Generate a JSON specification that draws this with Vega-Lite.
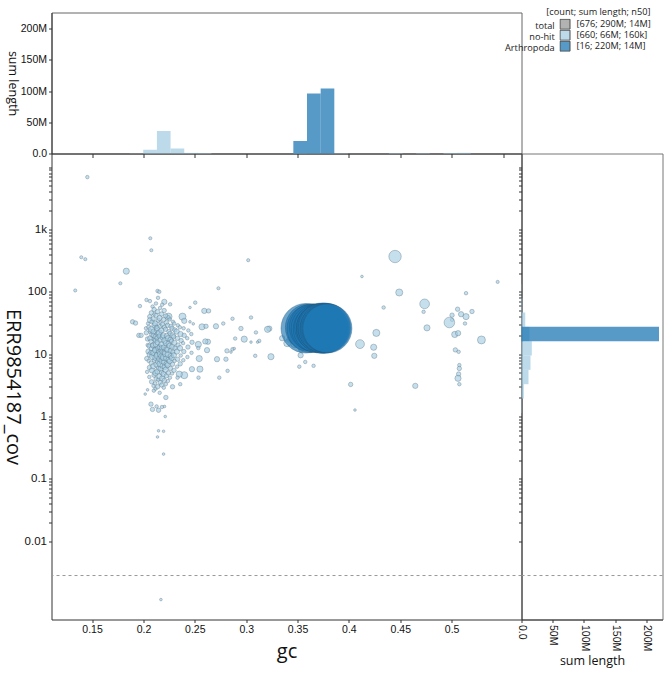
{
  "$schema": "https://vega.github.io/schema/vega-lite/v6.json",
  "background": "white",
  "padding": {"left": 1.5, "top": 7.5, "right": 5, "bottom": 5},
  "config": {
    "view": {"stroke": "#666", "strokeWidth": 1},
    "axis": {
      "grid": false, "domainColor": "#333", "tickColor": "#333", "tickSize": 3,
      "labelFont": "Liberation Sans", "labelColor": "#111", "labelFontSize": 10.5, "labelOverlap": false, "labelPadding": 2,
      "titleFont": "Open Sans", "titleFontWeight": "normal", "titleColor": "#111"
    },
    "legend": {
      "labelFont": "Open Sans", "labelFontSize": 9.2, "labelColor": "#222",
      "titleFont": "Open Sans", "titleFontSize": 9.2, "titleFontWeight": "normal", "titleColor": "#222",
      "padding": 0, "rowPadding": 0, "clipHeight": 11
    }
  },
  "datasets": {
    "contigs": [
      {"gc":0.1454,"cov":6900,"len":58000,"g":"no-hit"},
      {"gc":0.1395,"cov":358,"len":44000,"g":"no-hit"},
      {"gc":0.1434,"cov":333,"len":44000,"g":"no-hit"},
      {"gc":0.1336,"cov":105,"len":44000,"g":"no-hit"},
      {"gc":0.2067,"cov":722,"len":44000,"g":"no-hit"},
      {"gc":0.2077,"cov":464,"len":44000,"g":"no-hit"},
      {"gc":0.1833,"cov":214,"len":217000,"g":"no-hit"},
      {"gc":0.1775,"cov":137,"len":44000,"g":"no-hit"},
      {"gc":0.302,"cov":321,"len":44000,"g":"no-hit"},
      {"gc":0.273,"cov":114,"len":44000,"g":"no-hit"},
      {"gc":0.4449,"cov":368,"len":925000,"g":"no-hit"},
      {"gc":0.4127,"cov":176,"len":25000,"g":"no-hit"},
      {"gc":0.449,"cov":97.5,"len":290000,"g":"no-hit"},
      {"gc":0.5448,"cov":144,"len":44000,"g":"no-hit"},
      {"gc":0.4338,"cov":56,"len":58000,"g":"no-hit"},
      {"gc":0.4737,"cov":64,"len":564000,"g":"no-hit"},
      {"gc":0.4727,"cov":47.7,"len":58000,"g":"no-hit"},
      {"gc":0.476,"cov":26.4,"len":217000,"g":"no-hit"},
      {"gc":0.514,"cov":95,"len":58000,"g":"no-hit"},
      {"gc":0.5058,"cov":52.6,"len":102000,"g":"no-hit"},
      {"gc":0.5004,"cov":42.2,"len":102000,"g":"no-hit"},
      {"gc":0.5092,"cov":43.7,"len":155000,"g":"no-hit"},
      {"gc":0.514,"cov":40,"len":217000,"g":"no-hit"},
      {"gc":0.5198,"cov":48.3,"len":102000,"g":"no-hit"},
      {"gc":0.5004,"cov":35.5,"len":58000,"g":"no-hit"},
      {"gc":0.4978,"cov":32.2,"len":675000,"g":"no-hit"},
      {"gc":0.513,"cov":31,"len":58000,"g":"no-hit"},
      {"gc":0.503,"cov":20.7,"len":217000,"g":"no-hit"},
      {"gc":0.5063,"cov":21.7,"len":155000,"g":"no-hit"},
      {"gc":0.529,"cov":16.9,"len":371000,"g":"no-hit"},
      {"gc":0.5036,"cov":11.7,"len":102000,"g":"no-hit"},
      {"gc":0.5068,"cov":10.9,"len":58000,"g":"no-hit"},
      {"gc":0.5075,"cov":6.67,"len":58000,"g":"no-hit"},
      {"gc":0.5075,"cov":5.9,"len":102000,"g":"no-hit"},
      {"gc":0.5068,"cov":4.8,"len":102000,"g":"no-hit"},
      {"gc":0.5062,"cov":4.1,"len":217000,"g":"no-hit"},
      {"gc":0.5075,"cov":3.3,"len":58000,"g":"no-hit"},
      {"gc":0.4646,"cov":3.1,"len":155000,"g":"no-hit"},
      {"gc":0.4017,"cov":3.27,"len":102000,"g":"no-hit"},
      {"gc":0.4059,"cov":1.27,"len":25000,"g":"no-hit"},
      {"gc":0.4267,"cov":21.9,"len":290000,"g":"no-hit"},
      {"gc":0.4108,"cov":14.5,"len":463000,"g":"no-hit"},
      {"gc":0.4241,"cov":12.9,"len":217000,"g":"no-hit"},
      {"gc":0.4247,"cov":9.4,"len":155000,"g":"no-hit"},
      {"gc":0.3241,"cov":9.1,"len":217000,"g":"no-hit"},
      {"gc":0.3225,"cov":25.7,"len":155000,"g":"no-hit"},
      {"gc":0.3517,"cov":6.3,"len":58000,"g":"no-hit"},
      {"gc":0.3575,"cov":7.5,"len":58000,"g":"no-hit"},
      {"gc":0.3656,"cov":6.5,"len":58000,"g":"no-hit"},
      {"gc":0.3535,"cov":12,"len":155000,"g":"no-hit"},
      {"gc":0.342,"cov":17,"len":155000,"g":"no-hit"},
      {"gc":0.347,"cov":14.5,"len":290000,"g":"no-hit"},
      {"gc":0.335,"cov":18,"len":155000,"g":"no-hit"},
      {"gc":0.34,"cov":15,"len":290000,"g":"no-hit"},
      {"gc":0.353,"cov":9.6,"len":155000,"g":"no-hit"},
      {"gc":0.2137,"cov":103,"len":58000,"g":"no-hit"},
      {"gc":0.2154,"cov":100,"len":58000,"g":"no-hit"},
      {"gc":0.203,"cov":74,"len":58000,"g":"no-hit"},
      {"gc":0.2063,"cov":71,"len":58000,"g":"no-hit"},
      {"gc":0.2203,"cov":69,"len":155000,"g":"no-hit"},
      {"gc":0.226,"cov":63,"len":58000,"g":"no-hit"},
      {"gc":0.1966,"cov":59,"len":58000,"g":"no-hit"},
      {"gc":0.2504,"cov":67,"len":58000,"g":"no-hit"},
      {"gc":0.2453,"cov":56,"len":25000,"g":"no-hit"},
      {"gc":0.2592,"cov":49.4,"len":155000,"g":"no-hit"},
      {"gc":0.2634,"cov":49.4,"len":102000,"g":"no-hit"},
      {"gc":0.238,"cov":40,"len":290000,"g":"no-hit"},
      {"gc":0.1894,"cov":33,"len":102000,"g":"no-hit"},
      {"gc":0.1923,"cov":31.5,"len":102000,"g":"no-hit"},
      {"gc":0.2453,"cov":33,"len":25000,"g":"no-hit"},
      {"gc":0.2485,"cov":30.6,"len":25000,"g":"no-hit"},
      {"gc":0.257,"cov":27.4,"len":217000,"g":"no-hit"},
      {"gc":0.2609,"cov":28,"len":102000,"g":"no-hit"},
      {"gc":0.2706,"cov":28,"len":155000,"g":"no-hit"},
      {"gc":0.2777,"cov":31,"len":58000,"g":"no-hit"},
      {"gc":0.2867,"cov":37,"len":58000,"g":"no-hit"},
      {"gc":0.2949,"cov":25.8,"len":102000,"g":"no-hit"},
      {"gc":0.3047,"cov":38.7,"len":58000,"g":"no-hit"},
      {"gc":0.3095,"cov":22.3,"len":58000,"g":"no-hit"},
      {"gc":0.3208,"cov":25,"len":217000,"g":"no-hit"},
      {"gc":0.3127,"cov":16.3,"len":58000,"g":"no-hit"},
      {"gc":0.3111,"cov":15.6,"len":25000,"g":"no-hit"},
      {"gc":0.3047,"cov":15.6,"len":25000,"g":"no-hit"},
      {"gc":0.3088,"cov":9.4,"len":58000,"g":"no-hit"},
      {"gc":0.2981,"cov":17.4,"len":217000,"g":"no-hit"},
      {"gc":0.2893,"cov":17.8,"len":58000,"g":"no-hit"},
      {"gc":0.2867,"cov":12,"len":58000,"g":"no-hit"},
      {"gc":0.2813,"cov":11.3,"len":102000,"g":"no-hit"},
      {"gc":0.2852,"cov":10.8,"len":25000,"g":"no-hit"},
      {"gc":0.2884,"cov":12.3,"len":25000,"g":"no-hit"},
      {"gc":0.2803,"cov":8.3,"len":102000,"g":"no-hit"},
      {"gc":0.2716,"cov":8.3,"len":155000,"g":"no-hit"},
      {"gc":0.2819,"cov":5.4,"len":58000,"g":"no-hit"},
      {"gc":0.2738,"cov":4.2,"len":58000,"g":"no-hit"},
      {"gc":0.2628,"cov":15.8,"len":155000,"g":"no-hit"},
      {"gc":0.2602,"cov":16,"len":155000,"g":"no-hit"},
      {"gc":0.2534,"cov":14.3,"len":217000,"g":"no-hit"},
      {"gc":0.2534,"cov":12.5,"len":58000,"g":"no-hit"},
      {"gc":0.2619,"cov":11.6,"len":155000,"g":"no-hit"},
      {"gc":0.2543,"cov":8.5,"len":217000,"g":"no-hit"},
      {"gc":0.255,"cov":5.75,"len":217000,"g":"no-hit"},
      {"gc":0.2472,"cov":5.75,"len":155000,"g":"no-hit"},
      {"gc":0.2397,"cov":4.6,"len":290000,"g":"no-hit"},
      {"gc":0.2536,"cov":4.2,"len":58000,"g":"no-hit"},
      {"gc":0.2358,"cov":3.3,"len":58000,"g":"no-hit"},
      {"gc":0.2283,"cov":3.0,"len":102000,"g":"no-hit"},
      {"gc":0.2218,"cov":2.02,"len":102000,"g":"no-hit"},
      {"gc":0.204,"cov":2.68,"len":25000,"g":"no-hit"},
      {"gc":0.2017,"cov":2.29,"len":25000,"g":"no-hit"},
      {"gc":0.2073,"cov":1.58,"len":102000,"g":"no-hit"},
      {"gc":0.2088,"cov":1.3,"len":102000,"g":"no-hit"},
      {"gc":0.2147,"cov":1.26,"len":102000,"g":"no-hit"},
      {"gc":0.2128,"cov":1.45,"len":58000,"g":"no-hit"},
      {"gc":0.218,"cov":1.42,"len":58000,"g":"no-hit"},
      {"gc":0.2205,"cov":1.45,"len":25000,"g":"no-hit"},
      {"gc":0.2212,"cov":1.0,"len":25000,"g":"no-hit"},
      {"gc":0.2147,"cov":0.59,"len":25000,"g":"no-hit"},
      {"gc":0.2196,"cov":0.58,"len":25000,"g":"no-hit"},
      {"gc":0.2137,"cov":0.47,"len":25000,"g":"no-hit"},
      {"gc":0.2196,"cov":0.25,"len":25000,"g":"no-hit"},
      {"gc":0.217,"cov":0.00116,"len":25000,"g":"no-hit"},
      {"gc":0.1955,"cov":20,"len":102000,"g":"no-hit"},
      {"gc":0.1977,"cov":20,"len":102000,"g":"no-hit"},
      {"gc":0.2244,"cov":40,"len":290000,"g":"no-hit"},
      {"gc":0.2397,"cov":34.2,"len":155000,"g":"no-hit"},
      {"gc":0.2105,"cov":43.7,"len":58000,"g":"no-hit"},
      {"gc":0.2349,"cov":4.78,"len":217000,"g":"no-hit"},
      {"gc":0.2332,"cov":4.2,"len":58000,"g":"no-hit"},
      {"gc":0.2032,"cov":8.5,"len":102000,"g":"no-hit"},
      {"gc":0.2041,"cov":14,"len":58000,"g":"no-hit"},
      {"gc":0.2028,"cov":22,"len":102000,"g":"no-hit"},
      {"gc":0.2045,"cov":31,"len":58000,"g":"no-hit"},
      {"gc":0.2036,"cov":5.2,"len":58000,"g":"no-hit"},
      {"gc":0.2049,"cov":11,"len":155000,"g":"no-hit"},
      {"gc":0.2039,"cov":17.5,"len":102000,"g":"no-hit"},
      {"gc":0.2025,"cov":26,"len":58000,"g":"no-hit"},
      {"gc":0.2058,"cov":6.1,"len":102000,"g":"no-hit"},
      {"gc":0.2062,"cov":9.8,"len":155000,"g":"no-hit"},
      {"gc":0.2055,"cov":13.5,"len":102000,"g":"no-hit"},
      {"gc":0.2066,"cov":18,"len":155000,"g":"no-hit"},
      {"gc":0.2053,"cov":27,"len":102000,"g":"no-hit"},
      {"gc":0.2061,"cov":40,"len":102000,"g":"no-hit"},
      {"gc":0.2057,"cov":4.3,"len":58000,"g":"no-hit"},
      {"gc":0.2064,"cov":35,"len":155000,"g":"no-hit"},
      {"gc":0.2069,"cov":23,"len":102000,"g":"no-hit"},
      {"gc":0.2051,"cov":7.8,"len":58000,"g":"no-hit"},
      {"gc":0.2079,"cov":3.6,"len":102000,"g":"no-hit"},
      {"gc":0.2083,"cov":5.5,"len":155000,"g":"no-hit"},
      {"gc":0.2076,"cov":7.2,"len":102000,"g":"no-hit"},
      {"gc":0.2088,"cov":9.1,"len":217000,"g":"no-hit"},
      {"gc":0.2081,"cov":12.2,"len":155000,"g":"no-hit"},
      {"gc":0.2074,"cov":16,"len":102000,"g":"no-hit"},
      {"gc":0.2086,"cov":20.5,"len":155000,"g":"no-hit"},
      {"gc":0.2078,"cov":25,"len":217000,"g":"no-hit"},
      {"gc":0.2084,"cov":33,"len":102000,"g":"no-hit"},
      {"gc":0.2077,"cov":46,"len":102000,"g":"no-hit"},
      {"gc":0.2089,"cov":58,"len":58000,"g":"no-hit"},
      {"gc":0.2073,"cov":10.6,"len":102000,"g":"no-hit"},
      {"gc":0.2087,"cov":14.1,"len":58000,"g":"no-hit"},
      {"gc":0.2098,"cov":3.1,"len":58000,"g":"no-hit"},
      {"gc":0.2103,"cov":4.6,"len":102000,"g":"no-hit"},
      {"gc":0.2096,"cov":6.4,"len":155000,"g":"no-hit"},
      {"gc":0.2107,"cov":8.0,"len":102000,"g":"no-hit"},
      {"gc":0.2101,"cov":10.5,"len":217000,"g":"no-hit"},
      {"gc":0.2094,"cov":13.8,"len":155000,"g":"no-hit"},
      {"gc":0.2105,"cov":17.5,"len":102000,"g":"no-hit"},
      {"gc":0.2099,"cov":23,"len":155000,"g":"no-hit"},
      {"gc":0.2108,"cov":29,"len":155000,"g":"no-hit"},
      {"gc":0.2095,"cov":37,"len":102000,"g":"no-hit"},
      {"gc":0.2104,"cov":52,"len":102000,"g":"no-hit"},
      {"gc":0.2101,"cov":2.6,"len":58000,"g":"no-hit"},
      {"gc":0.2109,"cov":11.9,"len":102000,"g":"no-hit"},
      {"gc":0.2097,"cov":19.8,"len":102000,"g":"no-hit"},
      {"gc":0.2118,"cov":2.8,"len":58000,"g":"no-hit"},
      {"gc":0.2123,"cov":4.0,"len":102000,"g":"no-hit"},
      {"gc":0.2116,"cov":5.0,"len":155000,"g":"no-hit"},
      {"gc":0.2127,"cov":6.8,"len":155000,"g":"no-hit"},
      {"gc":0.2121,"cov":8.8,"len":217000,"g":"no-hit"},
      {"gc":0.2114,"cov":11.5,"len":155000,"g":"no-hit"},
      {"gc":0.2125,"cov":14.5,"len":217000,"g":"no-hit"},
      {"gc":0.2119,"cov":19,"len":155000,"g":"no-hit"},
      {"gc":0.2128,"cov":24,"len":102000,"g":"no-hit"},
      {"gc":0.2115,"cov":31,"len":155000,"g":"no-hit"},
      {"gc":0.2124,"cov":42,"len":102000,"g":"no-hit"},
      {"gc":0.2122,"cov":65,"len":58000,"g":"no-hit"},
      {"gc":0.2113,"cov":3.4,"len":58000,"g":"no-hit"},
      {"gc":0.2129,"cov":9.9,"len":102000,"g":"no-hit"},
      {"gc":0.2117,"cov":16.6,"len":102000,"g":"no-hit"},
      {"gc":0.2126,"cov":27.5,"len":58000,"g":"no-hit"},
      {"gc":0.2138,"cov":3.0,"len":102000,"g":"no-hit"},
      {"gc":0.2143,"cov":3.9,"len":58000,"g":"no-hit"},
      {"gc":0.2136,"cov":5.3,"len":155000,"g":"no-hit"},
      {"gc":0.2147,"cov":6.0,"len":102000,"g":"no-hit"},
      {"gc":0.2141,"cov":7.6,"len":155000,"g":"no-hit"},
      {"gc":0.2134,"cov":9.5,"len":217000,"g":"no-hit"},
      {"gc":0.2145,"cov":12.5,"len":155000,"g":"no-hit"},
      {"gc":0.2139,"cov":15.5,"len":155000,"g":"no-hit"},
      {"gc":0.2148,"cov":21,"len":217000,"g":"no-hit"},
      {"gc":0.2135,"cov":26,"len":155000,"g":"no-hit"},
      {"gc":0.2144,"cov":35,"len":102000,"g":"no-hit"},
      {"gc":0.2137,"cov":48,"len":102000,"g":"no-hit"},
      {"gc":0.2142,"cov":80,"len":58000,"g":"no-hit"},
      {"gc":0.2149,"cov":10.9,"len":102000,"g":"no-hit"},
      {"gc":0.2133,"cov":18.2,"len":102000,"g":"no-hit"},
      {"gc":0.2158,"cov":2.4,"len":58000,"g":"no-hit"},
      {"gc":0.2163,"cov":3.5,"len":102000,"g":"no-hit"},
      {"gc":0.2156,"cov":4.4,"len":155000,"g":"no-hit"},
      {"gc":0.2167,"cov":5.8,"len":155000,"g":"no-hit"},
      {"gc":0.2161,"cov":7.0,"len":217000,"g":"no-hit"},
      {"gc":0.2154,"cov":8.4,"len":155000,"g":"no-hit"},
      {"gc":0.2165,"cov":10.0,"len":217000,"g":"no-hit"},
      {"gc":0.2159,"cov":13.0,"len":155000,"g":"no-hit"},
      {"gc":0.2168,"cov":17,"len":155000,"g":"no-hit"},
      {"gc":0.2155,"cov":22,"len":217000,"g":"no-hit"},
      {"gc":0.2164,"cov":28,"len":102000,"g":"no-hit"},
      {"gc":0.2157,"cov":38,"len":155000,"g":"no-hit"},
      {"gc":0.2162,"cov":55,"len":58000,"g":"no-hit"},
      {"gc":0.2169,"cov":11.6,"len":102000,"g":"no-hit"},
      {"gc":0.2153,"cov":19.5,"len":102000,"g":"no-hit"},
      {"gc":0.2166,"cov":32,"len":58000,"g":"no-hit"},
      {"gc":0.2178,"cov":3.2,"len":102000,"g":"no-hit"},
      {"gc":0.2183,"cov":4.1,"len":155000,"g":"no-hit"},
      {"gc":0.2176,"cov":5.1,"len":102000,"g":"no-hit"},
      {"gc":0.2187,"cov":6.5,"len":155000,"g":"no-hit"},
      {"gc":0.2181,"cov":7.9,"len":217000,"g":"no-hit"},
      {"gc":0.2174,"cov":9.2,"len":155000,"g":"no-hit"},
      {"gc":0.2185,"cov":11.0,"len":155000,"g":"no-hit"},
      {"gc":0.2179,"cov":14.2,"len":217000,"g":"no-hit"},
      {"gc":0.2188,"cov":18.5,"len":155000,"g":"no-hit"},
      {"gc":0.2175,"cov":24,"len":155000,"g":"no-hit"},
      {"gc":0.2184,"cov":30,"len":102000,"g":"no-hit"},
      {"gc":0.2177,"cov":44,"len":102000,"g":"no-hit"},
      {"gc":0.2182,"cov":62,"len":58000,"g":"no-hit"},
      {"gc":0.2189,"cov":8.6,"len":102000,"g":"no-hit"},
      {"gc":0.2173,"cov":12.6,"len":102000,"g":"no-hit"},
      {"gc":0.2198,"cov":2.9,"len":58000,"g":"no-hit"},
      {"gc":0.2203,"cov":3.8,"len":102000,"g":"no-hit"},
      {"gc":0.2196,"cov":4.8,"len":155000,"g":"no-hit"},
      {"gc":0.2207,"cov":6.2,"len":155000,"g":"no-hit"},
      {"gc":0.2201,"cov":7.4,"len":155000,"g":"no-hit"},
      {"gc":0.2194,"cov":8.9,"len":217000,"g":"no-hit"},
      {"gc":0.2205,"cov":10.8,"len":155000,"g":"no-hit"},
      {"gc":0.2199,"cov":12.8,"len":155000,"g":"no-hit"},
      {"gc":0.2208,"cov":16.5,"len":217000,"g":"no-hit"},
      {"gc":0.2195,"cov":20,"len":155000,"g":"no-hit"},
      {"gc":0.2204,"cov":27,"len":102000,"g":"no-hit"},
      {"gc":0.2197,"cov":36,"len":102000,"g":"no-hit"},
      {"gc":0.2202,"cov":50,"len":102000,"g":"no-hit"},
      {"gc":0.2218,"cov":3.3,"len":58000,"g":"no-hit"},
      {"gc":0.2223,"cov":4.5,"len":102000,"g":"no-hit"},
      {"gc":0.2216,"cov":5.6,"len":155000,"g":"no-hit"},
      {"gc":0.2227,"cov":7.0,"len":155000,"g":"no-hit"},
      {"gc":0.2221,"cov":8.6,"len":155000,"g":"no-hit"},
      {"gc":0.2214,"cov":10.2,"len":217000,"g":"no-hit"},
      {"gc":0.2225,"cov":12.0,"len":155000,"g":"no-hit"},
      {"gc":0.2219,"cov":15.0,"len":155000,"g":"no-hit"},
      {"gc":0.2228,"cov":19.5,"len":155000,"g":"no-hit"},
      {"gc":0.2215,"cov":25,"len":102000,"g":"no-hit"},
      {"gc":0.2224,"cov":32,"len":102000,"g":"no-hit"},
      {"gc":0.2217,"cov":41,"len":102000,"g":"no-hit"},
      {"gc":0.2238,"cov":3.7,"len":58000,"g":"no-hit"},
      {"gc":0.2243,"cov":5.0,"len":102000,"g":"no-hit"},
      {"gc":0.2236,"cov":6.7,"len":155000,"g":"no-hit"},
      {"gc":0.2247,"cov":8.2,"len":155000,"g":"no-hit"},
      {"gc":0.2241,"cov":9.9,"len":217000,"g":"no-hit"},
      {"gc":0.2234,"cov":11.8,"len":155000,"g":"no-hit"},
      {"gc":0.2245,"cov":14.8,"len":155000,"g":"no-hit"},
      {"gc":0.2239,"cov":18,"len":155000,"g":"no-hit"},
      {"gc":0.2248,"cov":23,"len":102000,"g":"no-hit"},
      {"gc":0.2235,"cov":29,"len":102000,"g":"no-hit"},
      {"gc":0.2244,"cov":39,"len":58000,"g":"no-hit"},
      {"gc":0.2258,"cov":4.2,"len":58000,"g":"no-hit"},
      {"gc":0.2263,"cov":5.9,"len":102000,"g":"no-hit"},
      {"gc":0.2256,"cov":7.7,"len":155000,"g":"no-hit"},
      {"gc":0.2267,"cov":9.3,"len":155000,"g":"no-hit"},
      {"gc":0.2261,"cov":11.3,"len":102000,"g":"no-hit"},
      {"gc":0.2254,"cov":13.6,"len":155000,"g":"no-hit"},
      {"gc":0.2265,"cov":17,"len":155000,"g":"no-hit"},
      {"gc":0.2259,"cov":21.5,"len":102000,"g":"no-hit"},
      {"gc":0.2268,"cov":28,"len":102000,"g":"no-hit"},
      {"gc":0.2255,"cov":36,"len":58000,"g":"no-hit"},
      {"gc":0.2278,"cov":4.9,"len":58000,"g":"no-hit"},
      {"gc":0.2283,"cov":6.9,"len":102000,"g":"no-hit"},
      {"gc":0.2276,"cov":8.7,"len":155000,"g":"no-hit"},
      {"gc":0.2287,"cov":10.8,"len":102000,"g":"no-hit"},
      {"gc":0.2281,"cov":13.2,"len":155000,"g":"no-hit"},
      {"gc":0.2274,"cov":16.2,"len":102000,"g":"no-hit"},
      {"gc":0.2285,"cov":20,"len":155000,"g":"no-hit"},
      {"gc":0.2279,"cov":26,"len":102000,"g":"no-hit"},
      {"gc":0.2288,"cov":33,"len":58000,"g":"no-hit"},
      {"gc":0.2298,"cov":5.5,"len":102000,"g":"no-hit"},
      {"gc":0.2303,"cov":7.8,"len":58000,"g":"no-hit"},
      {"gc":0.2296,"cov":9.6,"len":155000,"g":"no-hit"},
      {"gc":0.2307,"cov":12.4,"len":102000,"g":"no-hit"},
      {"gc":0.2301,"cov":15.2,"len":155000,"g":"no-hit"},
      {"gc":0.2294,"cov":19,"len":102000,"g":"no-hit"},
      {"gc":0.2305,"cov":24.5,"len":102000,"g":"no-hit"},
      {"gc":0.2299,"cov":31,"len":58000,"g":"no-hit"},
      {"gc":0.2328,"cov":6.3,"len":58000,"g":"no-hit"},
      {"gc":0.2333,"cov":8.3,"len":102000,"g":"no-hit"},
      {"gc":0.2326,"cov":11.0,"len":155000,"g":"no-hit"},
      {"gc":0.2337,"cov":14.0,"len":102000,"g":"no-hit"},
      {"gc":0.2331,"cov":18,"len":102000,"g":"no-hit"},
      {"gc":0.2324,"cov":23,"len":155000,"g":"no-hit"},
      {"gc":0.2335,"cov":29,"len":58000,"g":"no-hit"},
      {"gc":0.2358,"cov":7.0,"len":102000,"g":"no-hit"},
      {"gc":0.2363,"cov":9.5,"len":58000,"g":"no-hit"},
      {"gc":0.2356,"cov":12.5,"len":155000,"g":"no-hit"},
      {"gc":0.2367,"cov":16.5,"len":102000,"g":"no-hit"},
      {"gc":0.2361,"cov":21,"len":155000,"g":"no-hit"},
      {"gc":0.2354,"cov":27,"len":58000,"g":"no-hit"},
      {"gc":0.2388,"cov":8.0,"len":58000,"g":"no-hit"},
      {"gc":0.2393,"cov":11.0,"len":102000,"g":"no-hit"},
      {"gc":0.2386,"cov":15.0,"len":58000,"g":"no-hit"},
      {"gc":0.2397,"cov":20,"len":102000,"g":"no-hit"},
      {"gc":0.2391,"cov":26,"len":58000,"g":"no-hit"},
      {"gc":0.2428,"cov":9.0,"len":58000,"g":"no-hit"},
      {"gc":0.2433,"cov":13.0,"len":102000,"g":"no-hit"},
      {"gc":0.2426,"cov":18,"len":58000,"g":"no-hit"},
      {"gc":0.2437,"cov":24,"len":58000,"g":"no-hit"},
      {"gc":0.2468,"cov":10.5,"len":58000,"g":"no-hit"},
      {"gc":0.2473,"cov":15.5,"len":102000,"g":"no-hit"},
      {"gc":0.2466,"cov":21,"len":58000,"g":"no-hit"},
      {"gc":0.357,"cov":24.0,"len":5000000,"g":"Arthropoda"},
      {"gc":0.358,"cov":26.0,"len":15000000,"g":"Arthropoda"},
      {"gc":0.361,"cov":26.8,"len":13500000,"g":"Arthropoda"},
      {"gc":0.363,"cov":25.6,"len":14000000,"g":"Arthropoda"},
      {"gc":0.365,"cov":26.9,"len":13600000,"g":"Arthropoda"},
      {"gc":0.367,"cov":26.1,"len":13900000,"g":"Arthropoda"},
      {"gc":0.369,"cov":25.4,"len":13800000,"g":"Arthropoda"},
      {"gc":0.370,"cov":27.0,"len":13400000,"g":"Arthropoda"},
      {"gc":0.372,"cov":26.3,"len":13800000,"g":"Arthropoda"},
      {"gc":0.373,"cov":25.8,"len":15000000,"g":"Arthropoda"},
      {"gc":0.374,"cov":26.7,"len":14800000,"g":"Arthropoda"},
      {"gc":0.375,"cov":26.0,"len":15200000,"g":"Arthropoda"},
      {"gc":0.376,"cov":25.5,"len":14600000,"g":"Arthropoda"},
      {"gc":0.377,"cov":26.5,"len":14900000,"g":"Arthropoda"},
      {"gc":0.378,"cov":26.2,"len":14700000,"g":"Arthropoda"},
      {"gc":0.379,"cov":25.9,"len":14800000,"g":"Arthropoda"}
    ],
    "gcHist": [
      {"g":"no-hit","gc0":0.1865,"gc1":0.1998,"sum":300000},
      {"g":"no-hit","gc0":0.1998,"gc1":0.2131,"sum":6000000},
      {"g":"no-hit","gc0":0.2131,"gc1":0.2264,"sum":36000000},
      {"g":"no-hit","gc0":0.2264,"gc1":0.2397,"sum":8000000},
      {"g":"no-hit","gc0":0.2397,"gc1":0.2529,"sum":1000000},
      {"g":"no-hit","gc0":0.2529,"gc1":0.2662,"sum":800000},
      {"g":"no-hit","gc0":0.3459,"gc1":0.3592,"sum":800000},
      {"g":"no-hit","gc0":0.3592,"gc1":0.3725,"sum":600000},
      {"g":"no-hit","gc0":0.3725,"gc1":0.3858,"sum":500000},
      {"g":"no-hit","gc0":0.3858,"gc1":0.3991,"sum":500000},
      {"g":"no-hit","gc0":0.4389,"gc1":0.4522,"sum":700000},
      {"g":"no-hit","gc0":0.4655,"gc1":0.4787,"sum":600000},
      {"g":"no-hit","gc0":0.4920,"gc1":0.5053,"sum":900000},
      {"g":"no-hit","gc0":0.5053,"gc1":0.5186,"sum":1100000},
      {"g":"Arthropoda","gc0":0.3459,"gc1":0.3592,"sum":20000000},
      {"g":"Arthropoda","gc0":0.3592,"gc1":0.3725,"sum":96000000},
      {"g":"Arthropoda","gc0":0.3725,"gc1":0.3858,"sum":104000000}
    ],
    "covHist": [
      {"g":"no-hit","c0":1.143,"c1":1.941,"sum":500000},
      {"g":"no-hit","c0":1.941,"c1":3.296,"sum":3700000},
      {"g":"no-hit","c0":3.296,"c1":5.598,"sum":11200000},
      {"g":"no-hit","c0":5.598,"c1":9.506,"sum":14400000},
      {"g":"no-hit","c0":9.506,"c1":16.14,"sum":16500000},
      {"g":"no-hit","c0":16.14,"c1":27.42,"sum":12800000},
      {"g":"no-hit","c0":27.42,"c1":46.56,"sum":6000000},
      {"g":"no-hit","c0":46.56,"c1":79.07,"sum":1200000},
      {"g":"no-hit","c0":79.07,"c1":134.3,"sum":300000},
      {"g":"Arthropoda","c0":16.14,"c1":27.42,"sum":220000000}
    ]
  },
  "resolve": {"scale": {"fill": "shared", "stroke": "shared"}},
  "columns": 2,
  "spacing": 0,
  "bounds": "flush",
  "concat": [
    {
      "width": 470,
      "height": 141,
      "data": {"name": "gcHist"},
      "mark": {"type": "rect", "opacity": 0.75},
      "encoding": {
        "x": {"field": "gc0", "type": "quantitative",
          "scale": {"domain": [0.1105, 0.568], "nice": false, "zero": false},
          "axis": {"title": null, "labels": false, "tickSize": 4, "values": [0.15, 0.2, 0.25, 0.3, 0.35, 0.4, 0.45, 0.5, 0.55]}},
        "x2": {"field": "gc1"},
        "y": {"field": "sum", "type": "quantitative",
          "scale": {"domain": [0, 225600000], "nice": false},
          "axis": {"title": "sum length", "titleFontSize": 12.5, "titleAngle": 90, "titleBaseline": "top", "titlePadding": 2,
            "values": [0, 50000000, 100000000, 150000000, 200000000],
            "labelExpr": "datum.value == 0 ? '0.0' : format(datum.value / 1000000, 'd') + 'M'"}},
        "y2": {"datum": 0},
        "fill": {"field": "g", "type": "nominal",
          "scale": {"domain": ["total", "no-hit", "Arthropoda"], "range": ["#999999", "#a6cee3", "#1f78b4"]}}
      }
    },
    {
      "width": 141,
      "height": 141,
      "view": {"stroke": null},
      "data": {"values": []},
      "mark": {"type": "point", "opacity": 0}
    },
    {
      "width": 470,
      "height": 466,
      "view": {"stroke": null},
      "layer": [
        {
          "data": {"name": "contigs"},
          "mark": {"type": "point", "shape": "circle", "filled": true, "fillOpacity": 0.65, "strokeOpacity": 0.6, "strokeWidth": 0.6},
          "encoding": {
            "x": {"field": "gc", "type": "quantitative",
              "scale": {"domain": [0.1105, 0.568], "nice": false, "zero": false},
              "axis": {"title": "gc", "titleFontSize": 20, "titlePadding": 6,
                "values": [0.15, 0.2, 0.25, 0.3, 0.35, 0.4, 0.45, 0.5], "format": ".2~f"}},
            "y": {"field": "cov", "type": "quantitative",
              "scale": {"type": "log", "domain": [0.000556, 16500], "nice": false},
              "axis": {"title": "ERR9854187_cov", "titleFontSize": 20, "titleAngle": 90, "titleBaseline": "top", "titlePadding": 2, "labelFontSize": 11.5,
                "values": [0.01,0.02,0.03,0.04,0.05,0.06,0.07,0.08,0.09,0.1,0.2,0.3,0.4,0.5,0.6,0.7,0.8,0.9,1,2,3,4,5,6,7,8,9,10,20,30,40,50,60,70,80,90,100,200,300,400,500,600,700,800,900,1000,2000,3000,4000,5000,6000,7000,8000,9000,10000],
                "labelExpr": "datum.value == 1000 ? '1k' : (indexof([0.01, 0.1, 1, 10, 100], datum.value) >= 0 ? format(datum.value, '~g') : '')"}},
            "size": {"field": "len", "type": "quantitative",
              "scale": {"domain": [0, 15000000], "range": [3, 2450]}, "legend": null},
            "fill": {"field": "g", "type": "nominal",
              "scale": {"domain": ["total", "no-hit", "Arthropoda"], "range": ["#999999", "#a6cee3", "#1f78b4"]},
              "legend": {"orient": "none", "legendX": 495, "legendY": -4.5,
                "title": "[count; sum length; n50]", "titleAnchor": "end", "titlePadding": 1.5,
                "symbolType": "square", "symbolSize": 100, "symbolStrokeColor": "#111", "symbolStrokeWidth": 1, "symbolOpacity": 1,
                "labelOffset": 6, "fillColor": "white",
                "labelExpr": "datum.label == 'total' ? '[676; 290M; 14M]' : (datum.label == 'no-hit' ? '[660; 66M; 160k]' : '[16; 220M; 14M]')"}},
            "stroke": {"field": "g", "type": "nominal",
              "scale": {"domain": ["Arthropoda", "no-hit", "total"], "range": ["#1b4f72", "#4f6b7a", "#555555"]},
              "legend": {"orient": "none", "legendX": 494, "legendY": 7.5, "title": null,
                "values": ["total", "no-hit", "Arthropoda"],
                "symbolType": "square", "symbolSize": 1, "symbolOpacity": 0, "symbolStrokeWidth": 0,
                "labelAlign": "right", "labelOffset": 0, "fillColor": "white"}}
          }
        },
        {
          "data": {"values": [{}]},
          "mark": {"type": "rule", "strokeDash": [3, 3], "color": "#999", "strokeWidth": 1},
          "encoding": {"y": {"datum": 0.00282}}
        }
      ]
    },
    {
      "width": 141,
      "height": 466,
      "view": {"stroke": "#777"},
      "layer": [
        {
          "data": {"name": "covHist"},
          "mark": {"type": "rect", "opacity": 0.75},
          "encoding": {
            "y": {"field": "c0", "type": "quantitative",
              "scale": {"type": "log", "domain": [0.000556, 16500], "nice": false},
              "axis": {"title": null, "labels": false, "tickSize": 3,
                "values": [0.01,0.02,0.03,0.04,0.05,0.06,0.07,0.08,0.09,0.1,0.2,0.3,0.4,0.5,0.6,0.7,0.8,0.9,1,2,3,4,5,6,7,8,9,10,20,30,40,50,60,70,80,90,100,200,300,400,500,600,700,800,900,1000,2000,3000,4000,5000,6000,7000,8000,9000,10000]}},
            "y2": {"field": "c1"},
            "x": {"field": "sum", "type": "quantitative",
              "scale": {"domain": [0, 225600000], "nice": false},
              "axis": {"title": "sum length", "titleFontSize": 12.5, "titlePadding": 4, "labelAngle": 90,
                "values": [0, 50000000, 100000000, 150000000, 200000000],
                "labelExpr": "datum.value == 0 ? '0.0' : format(datum.value / 1000000, 'd') + 'M'"}},
            "x2": {"datum": 0},
            "fill": {"field": "g", "type": "nominal",
              "scale": {"domain": ["total", "no-hit", "Arthropoda"], "range": ["#999999", "#a6cee3", "#1f78b4"]}}
          }
        },
        {
          "data": {"values": [{}]},
          "mark": {"type": "rule", "strokeDash": [3, 3], "color": "#999", "strokeWidth": 1},
          "encoding": {"y": {"datum": 0.00282}}
        }
      ]
    }
  ]
}
